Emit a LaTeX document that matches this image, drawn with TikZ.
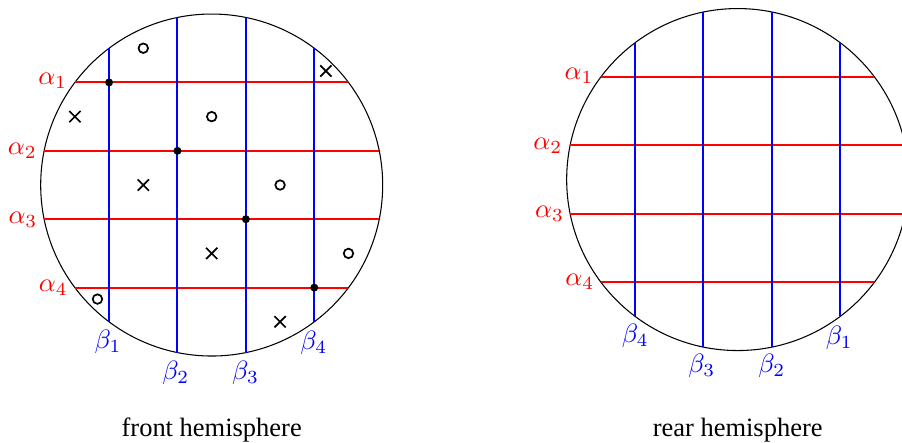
\documentclass[tikz,border=0pt]{standalone}
\usepackage{fontspec}
\setmainfont{Liberation Serif}
\usetikzlibrary{shapes.misc}
\tikzset{
  alph/.style={red,line width=0.75pt},
  bet/.style={blue,line width=0.75pt},
  dot/.style={circle,fill,inner sep=0pt,minimum size=3pt},
  hole/.style={circle,draw,line width=0.65pt,inner sep=0pt,minimum size=3.6pt},
  cross/.style={cross out,draw,line width=0.65pt,inner sep=0pt,minimum size=3.6pt},
}
\begin{document}
\begin{tikzpicture}[scale=2.27]
\useasboundingbox (-1.238,-1.503) rectangle (4.037,1.082);
% front hemisphere
\draw (0,0) circle (1);
\draw[alph] (-0.8,0.6) -- (0.8,0.6);
\draw[alph] (-0.98,0.2) -- (0.98,0.2);
\draw[alph] (-0.98,-0.2) -- (0.98,-0.2);
\draw[alph] (-0.8,-0.6) -- (0.8,-0.6);
\draw[bet] (-0.6,-0.8) -- (-0.6,0.8);
\draw[bet] (-0.2,-0.98) -- (-0.2,0.98);
\draw[bet] (0.2,-0.98) -- (0.2,0.98);
\draw[bet] (0.6,-0.8) -- (0.6,0.8);
                \node[alph] (la1) at (-0.93,0.612){$\alpha_1$};
                \node[alph] (la2) at (-1.108,0.2){$\alpha_2$};
                \node[alph] (la3) at (-1.104,-0.203){$\alpha_3$};
                \node[alph] (la4) at (-0.926,-0.602){$\alpha_4$};
                \node[bet] (lb1) at (-0.606,-0.92){$\beta_1$};
                \node[bet] (lb2) at (-0.21,-1.098){$\beta_2$};
                \node[bet] (lb3) at (0.198,-1.098){$\beta_3$};
                \node[bet] (lb4) at (0.597,-0.926){$\beta_4$};
\node[dot] (d1) at (-0.6,0.6){};
\node[dot] (d2) at (-0.2,0.2){};
\node[dot] (d3) at (0.2,-0.2){};
\node[dot] (d4) at (0.6,-0.6){};
\node[hole] (o1) at (-0.4,0.8){};
\node[hole] (o2) at (0,0.4){};
\node[hole] (o3) at (0.4,0){};
\node[hole] (o4) at (0.8,-0.4){};
\node[hole] (o5) at (-0.668,-0.667){};
\node[cross] (x1) at (0.668,0.667){};
\node[cross] (x2) at (-0.8,0.4){};
\node[cross] (x3) at (-0.4,0){};
\node[cross] (x4) at (0,-0.4){};
\node[cross] (x5) at (0.4,-0.8){};
\node (front) at (0,-1.43){front hemisphere};
% rear hemisphere
\begin{scope}[shift={(3.076,0.032)}]
\draw (0,0) circle (1);
\draw[alph] (-0.8,0.6) -- (0.8,0.6);
\draw[alph] (-0.98,0.2) -- (0.98,0.2);
\draw[alph] (-0.98,-0.2) -- (0.98,-0.2);
\draw[alph] (-0.8,-0.6) -- (0.8,-0.6);
\draw[bet] (-0.6,-0.8) -- (-0.6,0.8);
\draw[bet] (-0.2,-0.98) -- (-0.2,0.98);
\draw[bet] (0.2,-0.98) -- (0.2,0.98);
\draw[bet] (0.6,-0.8) -- (0.6,0.8);
                \node[alph] (ra1) at (-0.928,0.606){$\alpha_1$};
                \node[alph] (ra2) at (-1.11,0.2){$\alpha_2$};
                \node[alph] (ra3) at (-1.1,-0.2){$\alpha_3$};
                \node[alph] (ra4) at (-0.923,-0.598){$\alpha_4$};
                \node[bet] (rb4) at (-0.599,-0.914){$\beta_4$};
                \node[bet] (rb3) at (-0.21,-1.09){$\beta_3$};
                \node[bet] (rb2) at (0.2,-1.09){$\beta_2$};
                \node[bet] (rb1) at (0.594,-0.924){$\beta_1$};
\node (rear) at (0,-1.465){rear hemisphere};
\end{scope}
\end{tikzpicture}
\end{document}
